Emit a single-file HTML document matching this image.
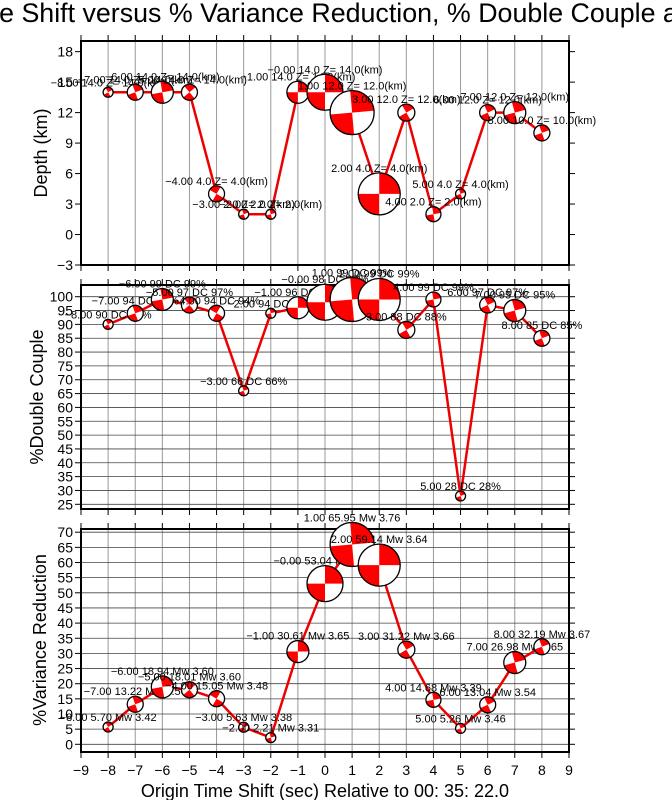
<!DOCTYPE html>
<html><head><meta charset="utf-8"><style>
html,body{margin:0;padding:0;background:#fff;width:672px;height:800px;overflow:hidden}
svg{display:block;font-family:"Liberation Sans",sans-serif}
</style></head><body>
<svg id="s" width="672" height="800" viewBox="0 0 672 800" xmlns="http://www.w3.org/2000/svg">
<text x="-123" y="22" font-size="26.8">Origin Time Shift versus % Variance Reduction, % Double Couple and Depth</text>
<text x="325" y="797" font-size="18" text-anchor="middle">Origin Time Shift (sec) Relative to 00: 35: 22.0</text>
<text transform="translate(47,153) rotate(-90)" font-size="18" text-anchor="middle">Depth (km)</text>
<text transform="translate(43,397) rotate(-90)" font-size="18" text-anchor="middle">%Double Couple</text>
<text transform="translate(46,640) rotate(-90)" font-size="18" text-anchor="middle">%Variance Reduction</text>
<g id="g"></g>
</svg>
<script>
var NS="http://www.w3.org/2000/svg",G=document.getElementById("g");
function el(t,a,txt){var e=document.createElementNS(NS,t);for(var k in a)e.setAttribute(k,a[k]);if(txt!=null)e.textContent=txt;G.appendChild(e);return e;}
var L=81,R=569;function X(t){return 325+t*27.11;}
var P=[
 {top:41,bot:265,y:function(v){return 265-(v+3)*10.16},ticks:[-3,0,3,6,9,12,15,18],hgrid:false},
 {top:285,bot:509,y:function(v){return 296.7+(100-v)*2.768},ticks:[25,30,35,40,45,50,55,60,65,70,75,80,85,90,95,100],hgrid:true},
 {top:529,bot:752,y:function(v){return 744.3-v*3.03},ticks:[0,5,10,15,20,25,30,35,40,45,50,55,60,65,70],hgrid:true}
];
var T=[-8,-7,-6,-5,-4,-3,-2,-1,0,1,2,3,4,5,6,7,8];
var tl=["\u22128.00","\u22127.00","\u22126.00","\u22125.00","\u22124.00","\u22123.00","\u22122.00","\u22121.00","\u22120.00","1.00","2.00","3.00","4.00","5.00","6.00","7.00","8.00"];
var D=[14,14,14,14,4,2,2,14,14,12,4,12,2,4,12,12,10];
var DC=[90,94,99,97,94,66,94,96,98,99,99,88,99,28,97,95,85];
var VR=["5.70","13.22","18.94","18.01","15.05","5.63","2.21","30.61","53.04","65.95","59.14","31.22","14.68","5.26","13.04","26.98","32.19"];
var MW=["3.42","3.56","3.60","3.60","3.48","3.38","3.31","3.65","3.74","3.76","3.64","3.66","3.39","3.46","3.54","3.65","3.67"];
var RAD=[5,8,11,8,8,5,5,11,18,22,21,8.5,7.5,5,8,11,8];
var ANG=[30,20,10,40,60,20,15,0,0,5,0,30,10,20,25,15,20];
P.forEach(function(p,pi){
  for(var t=-9;t<=9;t++){var x=X(t);
    el("line",{x1:x,y1:p.top,x2:x,y2:p.bot,stroke:"#999","stroke-width":1});
    el("line",{x1:x,y1:p.top-6,x2:x,y2:p.top,stroke:"#000","stroke-width":1});
    el("line",{x1:x,y1:p.bot,x2:x,y2:p.bot+6,stroke:"#000","stroke-width":1});}
  p.ticks.forEach(function(v){var y=p.y(v);
    if(p.hgrid)el("line",{x1:L,y1:y,x2:R,y2:y,stroke:"#444","stroke-width":0.8});
    el("line",{x1:L-6,y1:y,x2:L,y2:y,stroke:"#000","stroke-width":1});
    el("line",{x1:R,y1:y,x2:R+6,y2:y,stroke:"#000","stroke-width":1});
    el("text",{x:L-8,y:y+5,"font-size":14,"text-anchor":"end"},v<0?"\u2212"+(-v):""+v);});
  el("rect",{x:L,y:p.top,width:R-L,height:p.bot-p.top,fill:"none",stroke:"#000","stroke-width":2});
});
for(var t=-9;t<=9;t++)el("text",{x:X(t),y:775,"font-size":14,"text-anchor":"middle"},t<0?"\u2212"+(-t):""+t);
function ball(cx,cy,r,a){
  el("circle",{cx:cx,cy:cy,r:r,fill:"#fff"});
  [0,180].forEach(function(o){var a1=(a+o)*Math.PI/180,a2=(a+o+90)*Math.PI/180;
    el("path",{d:"M"+cx+","+cy+"L"+(cx+r*Math.cos(a1))+","+(cy-r*Math.sin(a1))+"A"+r+","+r+" 0 0 0 "+(cx+r*Math.cos(a2))+","+(cy-r*Math.sin(a2))+"Z",fill:"#f00"});});
  el("circle",{cx:cx,cy:cy,r:r,fill:"none",stroke:"#000","stroke-width":1.3});
}
var series=[D,DC,VR.map(Number)];
series.forEach(function(s,pi){var p=P[pi],pts=T.map(function(t,i){return X(t)+","+p.y(s[i]);}).join(" ");
  el("polyline",{points:pts,fill:"none",stroke:"#e00","stroke-width":2.5});});
series.forEach(function(s,pi){var p=P[pi];
  T.forEach(function(t,i){var cx=X(t),cy=p.y(s[i]),r=RAD[i];ball(cx,cy,r,ANG[i]);
    var lab=pi==0?tl[i]+" "+D[i].toFixed(1)+" Z= "+D[i].toFixed(1)+"(km)":pi==1?tl[i]+" "+DC[i]+" DC "+DC[i]+"%":tl[i]+" "+VR[i]+" Mw "+MW[i];
    el("text",{x:cx,y:cy-r-1,"font-size":11,"text-anchor":"middle"},lab);});});
</script>
</body></html>
